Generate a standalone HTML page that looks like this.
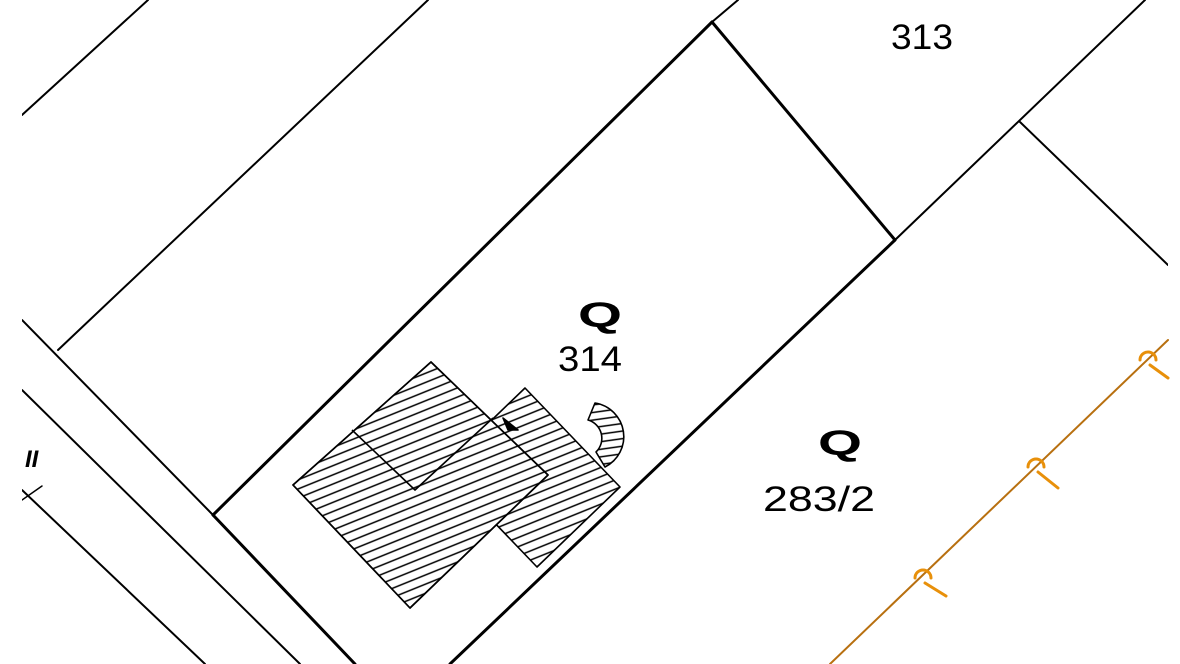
<!DOCTYPE html>
<html><head><meta charset="utf-8"><style>
html,body{margin:0;padding:0;background:#fff;width:1180px;height:664px;overflow:hidden}
svg{display:block}
text{font-family:"Liberation Sans",sans-serif;fill:#000}
</style></head><body>
<svg width="1180" height="664" viewBox="0 0 1180 664" xmlns="http://www.w3.org/2000/svg">
<defs>
<pattern id="h" patternUnits="userSpaceOnUse" width="8" height="8.5" patternTransform="rotate(-22)">
<line x1="0" y1="4" x2="8" y2="4" stroke="#000" stroke-width="1.5"/>
</pattern>
<pattern id="h2" patternUnits="userSpaceOnUse" width="8" height="7.5" patternTransform="rotate(-8)">
<line x1="0" y1="3.5" x2="8" y2="3.5" stroke="#000" stroke-width="1.5"/>
</pattern>
<clipPath id="c"><rect x="22" y="0" width="1146" height="664"/></clipPath>
</defs>
<g clip-path="url(#c)" stroke="#000" fill="none" stroke-linecap="round">
<line x1="22" y1="115" x2="148" y2="0" stroke-width="2"/>
<line x1="58" y1="350" x2="428" y2="0" stroke-width="2"/>
<line x1="22" y1="320" x2="213" y2="515" stroke-width="2"/>
<line x1="22" y1="390" x2="300" y2="664" stroke-width="2"/>
<line x1="22" y1="490" x2="205" y2="664" stroke-width="2"/>
<line x1="22" y1="500" x2="42" y2="486" stroke-width="1.5"/>
<line x1="213" y1="515" x2="355" y2="664" stroke-width="3"/>
<line x1="213" y1="515" x2="712" y2="22" stroke-width="3"/>
<line x1="712" y1="22" x2="895" y2="240" stroke-width="3"/>
<line x1="712" y1="22" x2="738" y2="0" stroke-width="2"/>
<line x1="895" y1="240" x2="450" y2="664" stroke-width="3"/>
<line x1="895" y1="240" x2="1145" y2="0" stroke-width="2"/>
<line x1="1020" y1="122" x2="1168" y2="265" stroke-width="2"/>
</g>
<text x="25" y="467" font-size="24" font-weight="bold" font-style="italic">II</text>
<g stroke="#000" stroke-width="1.6" stroke-linejoin="round">
<polygon points="525,388 620,487 537,567 442,468" fill="url(#h)"/>
<polygon points="431,362 548,475 410,608 293,485" fill="#fff"/>
<polygon points="431,362 548,475 410,608 293,485" fill="url(#h)"/>
<polyline points="352,430 415,490 493,418" fill="none"/>
<path d="M595,403 A34,34 0 0 1 605,467 L596,452 A19,19 0 0 0 588,420 Z" fill="url(#h2)"/>
<polygon points="503,418 518,430 508,430" fill="#000"/>
</g>
<g stroke="#e8900a" fill="none" stroke-linecap="round">
<line x1="830" y1="664" x2="1168" y2="340" stroke="#b87010" stroke-width="2"/>
<g stroke-width="3">
<path d="M915,578 a8,8 0 0 1 16,0 M925,583 L946,596"/>
<path d="M1028,467 a8,8 0 0 1 16,0 M1038,472 L1058,488"/>
<path d="M1140,360 a8,8 0 0 1 16,0 M1150,365 L1168,378"/>
</g>
</g>
<g font-size="35">
<text x="891" y="49" textLength="62" lengthAdjust="spacingAndGlyphs">313</text>
<text x="578" y="327" font-weight="bold" textLength="44" lengthAdjust="spacingAndGlyphs">Q</text>
<text x="558" y="371" textLength="64" lengthAdjust="spacingAndGlyphs">314</text>
<text x="818" y="455" font-weight="bold" textLength="44" lengthAdjust="spacingAndGlyphs">Q</text>
<text x="763" y="511" textLength="112" lengthAdjust="spacingAndGlyphs">283/2</text>
</g>
</svg>
</body></html>
